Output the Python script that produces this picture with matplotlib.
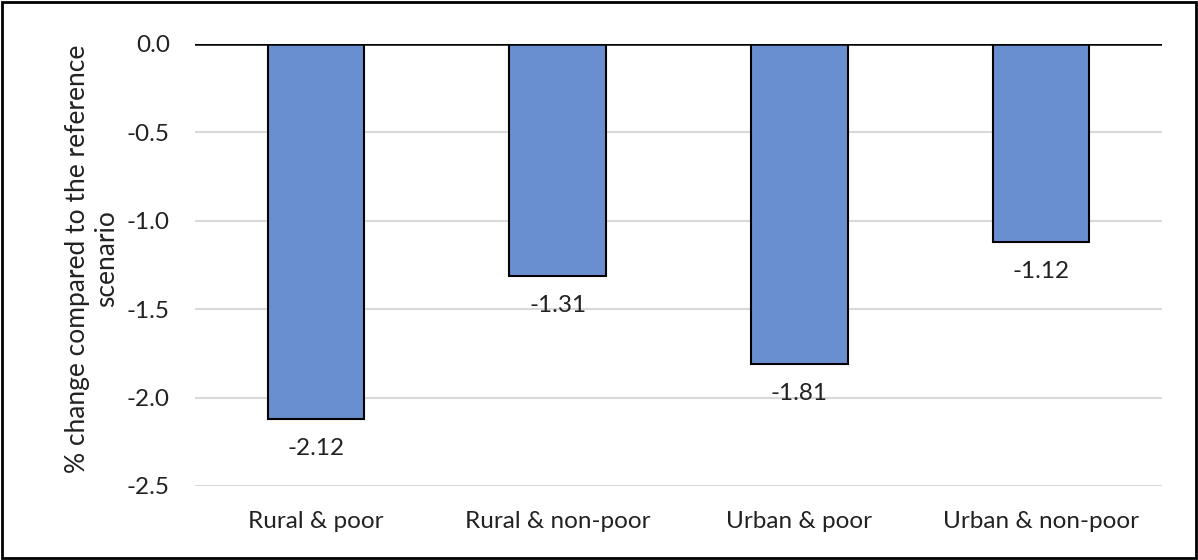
import matplotlib
matplotlib.use("Agg")
import matplotlib.pyplot as plt
from matplotlib.patches import Rectangle

categories = ["Rural & poor", "Rural & non-poor", "Urban & poor", "Urban & non-poor"]
values = [-2.12, -1.31, -1.81, -1.12]
yticks = [0.0, -0.5, -1.0, -1.5, -2.0, -2.5]

plt.rcParams['font.family'] = ['Lato', 'DejaVu Sans']

fs = 17.5
fig = plt.figure(figsize=(11.98, 5.6), dpi=100)
ax = fig.add_axes([195/1198, 1-486/560, (1162-195)/1198, (486-44)/560])

x = list(range(len(categories)))
ax.bar(x, values, width=0.4, color="#6A8FD0", edgecolor="black", linewidth=1.5, zorder=3)

for xi, v in zip(x, values):
    ax.annotate(f"{v:.2f}", (xi, v), xytext=(0, -14), textcoords="offset points",
                ha="center", va="top", fontsize=fs, color="#222222")

ax.set_xlim(-0.5, len(categories) - 0.5)
ax.set_ylim(-2.5, 0.0)
ax.set_yticks(yticks)
ax.set_yticklabels([f"{t:.1f}" for t in yticks], fontsize=fs, color="#222222")
ax.set_xticks(x)
ax.set_xticklabels(categories, fontsize=fs, color="#222222")
ax.tick_params(axis="x", length=0, pad=18)
ax.tick_params(axis="y", length=0, pad=18)

for t in yticks[1:]:
    ax.axhline(t, color="#D9D9D9", linewidth=1.5, zorder=1)
ax.axhline(0, color="black", linewidth=1.8, zorder=4)

for s in ax.spines.values():
    s.set_visible(False)

ax.set_ylabel("% change compared to the reference\nscenario", fontsize=19, color="#222222",
              linespacing=1.2)
ax.yaxis.set_label_coords(-76/967, 0.515)

fig.patches.append(Rectangle((0.002, 0.004), 0.996, 0.992, transform=fig.transFigure,
                             fill=False, edgecolor="black", linewidth=2))

fig.savefig("out.png", dpi=100)
